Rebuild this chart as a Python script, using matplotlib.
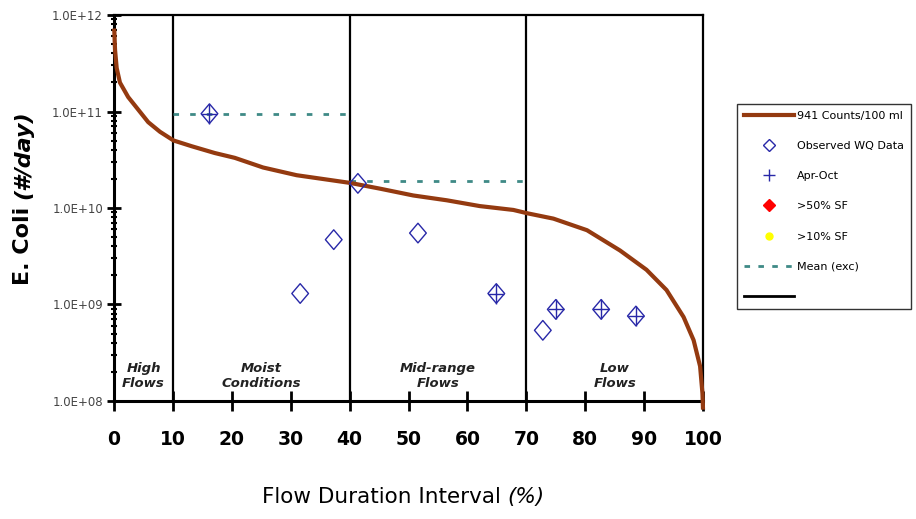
import matplotlib
matplotlib.use("Agg")
import matplotlib.pyplot as plt
import numpy as np
from matplotlib.ticker import FixedLocator, FuncFormatter, NullFormatter
from matplotlib.lines import Line2D
from matplotlib.path import Path

# ---- data ----
curve_x = [0, 0.05, 0.17, 0.45, 1.0, 2.4, 4.1, 5.8, 7.8, 10.1, 13.2, 17.1, 20.5, 25.3, 31.0,
           36.7, 40.1, 45.2, 50.8, 56.5, 62.1, 67.8, 70.2, 74.6, 80.3, 85.9, 90.4, 93.8,
           96.7, 98.4, 99.5, 99.9, 100]
curve_logy = [11.86, 11.83, 11.64, 11.45, 11.30, 11.15, 11.02, 10.89, 10.79, 10.70, 10.64, 10.57,
              10.52, 10.42, 10.34, 10.29, 10.26, 10.20, 10.13, 10.08, 10.02, 9.98, 9.945,
              9.89, 9.77, 9.56, 9.36, 9.15, 8.87, 8.63, 8.36, 8.08, 7.91]
curve_y = [10 ** v for v in curve_logy]

obs_x = [16.2, 31.6, 37.3, 41.4, 51.6, 64.9, 72.8, 75.0, 82.7, 88.6]
obs_y = [9.5e10, 1.3e9, 4.7e9, 1.8e10, 5.5e9, 1.3e9, 5.4e8, 8.9e8, 8.9e8, 7.6e8]

aproct_x = [16.2, 64.9, 75.0, 82.7, 88.6]
aproct_y = [9.5e10, 1.3e9, 8.9e8, 8.9e8, 7.6e8]

mean_x = [[10, 40], [40, 70]]
mean_y = [9.5e10, 1.9e10]

zone_bounds = [10, 40, 70]
zone_labels = ["High\nFlows", "Moist\nConditions", "Mid-range\nFlows", "Low\nFlows"]
zone_centers = [5, 25, 55, 85]

xticks = list(range(0, 101, 10))
yticks = [1e8, 1e9, 1e10, 1e11, 1e12]
yminor = [k * 10.0 ** d for d in range(8, 12) for k in range(2, 10)]

legend_labels = ["941 Counts/100 ml", "Observed WQ Data", "Apr-Oct", ">50% SF", ">10% SF",
                 "Mean (exc)", ""]

brown = "#943a10"
navy = "#2828a8"
teal = "#3f8a86"

diamond = Path([(0, 1), (0.85, 0), (0, -1), (-0.85, 0), (0, 1)],
               [Path.MOVETO, Path.LINETO, Path.LINETO, Path.LINETO, Path.CLOSEPOLY])
plus = Path([(0, 1), (0, -1), (-0.85, 0), (0.85, 0)],
            [Path.MOVETO, Path.LINETO, Path.MOVETO, Path.LINETO])

fig = plt.figure(figsize=(9.16, 5.19), dpi=100)
ax = fig.add_axes([0.1245, 0.2274, 0.643, 0.7436])

ax.set_yscale("log")
ax.set_xlim(0, 100)
ax.set_ylim(1e8, 1e12)

for xb in zone_bounds:
    ax.axvline(xb, color="black", lw=1.6, zorder=2)

for (xs, ym) in zip(mean_x, mean_y):
    ax.plot(xs, [ym, ym], color=teal, lw=2, ls=(0, (2, 4)), zorder=3)

ax.plot(curve_x, curve_y, color=brown, lw=3, zorder=4, clip_on=False, solid_capstyle="butt",
        solid_joinstyle="round")

ax.scatter(obs_x, obs_y, marker=diamond, s=200, facecolors="none", edgecolors=navy,
           linewidths=1.0, zorder=5)
ax.scatter(aproct_x, aproct_y, marker=plus, s=200, color=navy, linewidths=1.0, zorder=6)

for xc, lab in zip(zone_centers, zone_labels):
    ax.text(xc, 1.82e8, lab, ha="center", va="center", fontsize=9.5, style="italic",
            fontweight="bold", color="#222222", linespacing=1.25)

for s in ["top", "right"]:
    ax.spines[s].set_linewidth(1.6)
ax.spines["left"].set_linewidth(2.2)
ax.spines["bottom"].set_linewidth(2.2)

ax.xaxis.set_major_locator(FixedLocator(xticks))
ax.set_xticklabels([str(t) for t in xticks], fontsize=13.5, fontweight="bold")
ax.tick_params(axis="x", which="major", direction="inout", length=14, width=2, pad=14)
ax.tick_params(top=False, right=False)

ax.yaxis.set_major_locator(FixedLocator(yticks))
ax.yaxis.set_major_formatter(FuncFormatter(lambda v, p: "1.0E+%02d" % int(round(np.log10(v)))))
ax.yaxis.set_minor_locator(FixedLocator(yminor))
ax.yaxis.set_minor_formatter(NullFormatter())
ax.tick_params(axis="y", which="major", direction="inout", length=10, width=2, labelsize=8.5,
               labelcolor="#444444", pad=3)
ax.tick_params(axis="y", which="minor", direction="inout", length=5, width=1.5)

# y label with italic part
t1 = ax.annotate("E. Coli ", xy=(0.025, 0.451), xycoords="figure fraction", rotation=90,
                 ha="center", va="bottom", fontsize=16, fontweight="bold", annotation_clip=False)
ax.annotate("(#/day)", xy=(0.5, 1.0), xycoords=t1, rotation=90, ha="center", va="bottom",
            fontsize=16, fontweight="bold", style="italic", annotation_clip=False)

# x label with italic part
t2 = ax.annotate("Flow Duration Interval ", xy=(0.286, 0.042), xycoords="figure fraction",
                 ha="left", va="center", fontsize=15.5, annotation_clip=False)
ax.annotate("(%)", xy=(1.0, 0.5), xycoords=t2, ha="left", va="center", fontsize=15.5,
            style="italic", annotation_clip=False)

handles = [
    Line2D([], [], color=brown, lw=3),
    Line2D([], [], marker="D", ls="none", mfc="none", mec=navy, ms=6, mew=1),
    Line2D([], [], marker="+", ls="none", color=navy, ms=8, mew=1),
    Line2D([], [], marker="D", ls="none", color="red", ms=6),
    Line2D([], [], marker="o", ls="none", color="yellow", ms=5),
    Line2D([], [], color=teal, lw=2, ls=(0, (2, 3))),
    Line2D([], [], color="black", lw=2),
]
leg = fig.legend(handles, legend_labels, loc="upper left", bbox_to_anchor=(0.8046, 0.7996),
                 frameon=True, fontsize=8, fancybox=False, edgecolor="black",
                 handlelength=4.5, handletextpad=0.3, labelspacing=1.82, borderpad=0.6,
                 borderaxespad=0)
leg.get_frame().set_linewidth(1.0)

fig.savefig("out.png", dpi=100)
